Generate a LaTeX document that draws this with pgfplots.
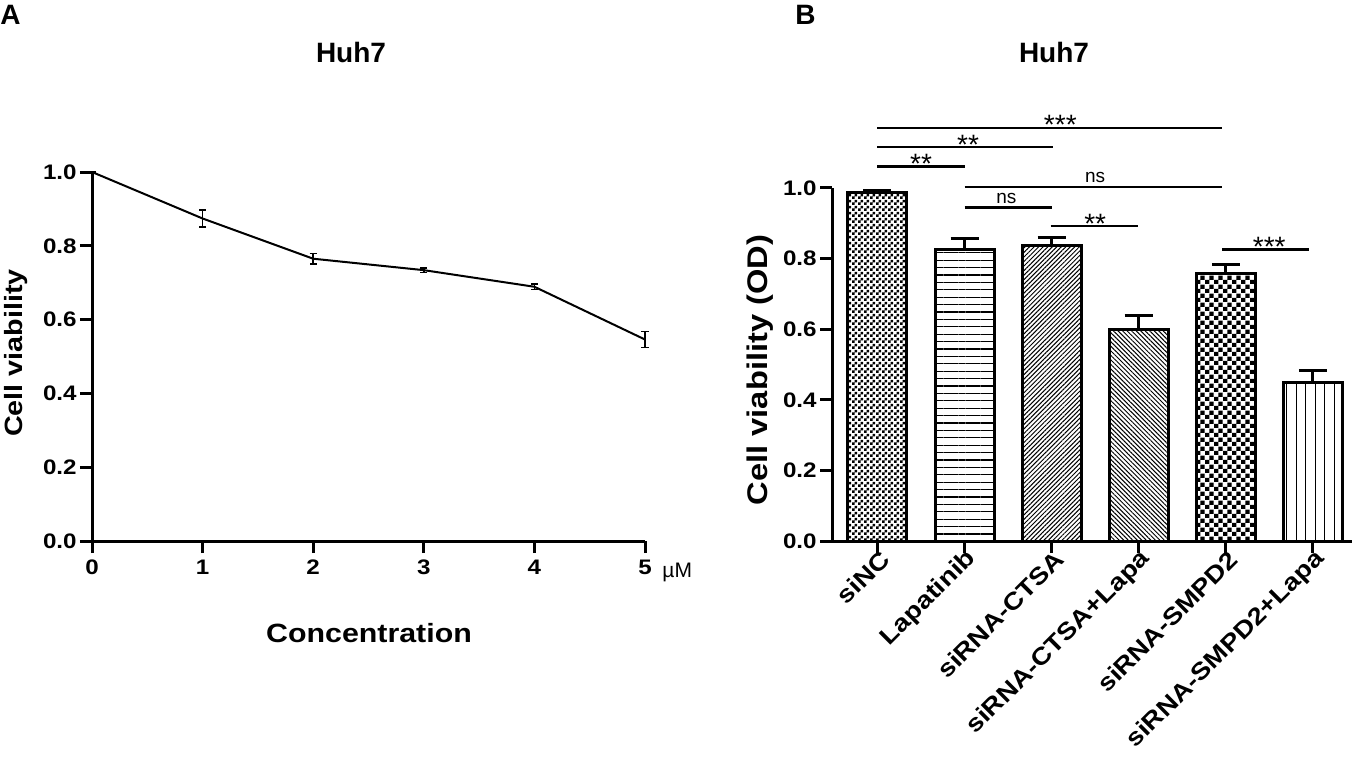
\documentclass[border=0pt]{standalone}
\usepackage{fontspec}
\setmainfont{Liberation Sans}
\newfontfamily\wide[FakeStretch=1.15]{Liberation Sans}
\usepackage{pgfplots}
\pgfplotsset{compat=1.18}
\usetikzlibrary{patterns,patterns.meta}

\pgfdeclarepatternformonly{finecheck}{\pgfpointorigin}{\pgfqpoint{3pt}{3pt}}{\pgfqpoint{3pt}{3pt}}{%
  \pgfpathrectangle{\pgfpointorigin}{\pgfqpoint{1.5pt}{1.5pt}}%
  \pgfpathrectangle{\pgfqpoint{1.5pt}{1.5pt}}{\pgfqpoint{1.5pt}{1.5pt}}%
  \pgfusepath{fill}}
\pgfdeclarepatternformonly{coarsecheck}{\pgfpointorigin}{\pgfqpoint{4.6pt}{4.6pt}}{\pgfqpoint{4.6pt}{4.6pt}}{%
  \pgfpathrectangle{\pgfpointorigin}{\pgfqpoint{2.3pt}{2.3pt}}%
  \pgfpathrectangle{\pgfqpoint{2.3pt}{2.3pt}}{\pgfqpoint{2.3pt}{2.3pt}}%
  \pgfusepath{fill}}

\tikzset{
  sig/.style={line width=1.1pt, black},
  star/.style={anchor=base, font=\fontsize{14}{14}\selectfont, inner sep=0pt, yshift=-3.5pt},
  nsl/.style={anchor=base, font=\fontsize{9.5}{10}\selectfont, inner sep=0pt, yshift=2.2pt},
}
\pgfplotsset{
  gp/.style={
    scale only axis,
    anchor=south west,
    axis x line*=bottom, axis y line*=left,
    axis line style={-, line width=1.5pt, black},
    tick align=outside,
    major tick length=6pt,
    tick style={line width=1.5pt, black},
    ymin=0, ymax=1,
    ytick={0,0.2,0.4,0.6,0.8,1.0},
    yticklabels={0.0,0.2,0.4,0.6,0.8,1.0},
    tick label style={font=\wide\bfseries\fontsize{10.5}{12}\selectfont},
    y tick label style={inner sep=1.5pt},
    clip=false,
  },
  gpbar/.style={ybar, bar width=0.677, bar shift=0pt, draw=black, line width=1.5pt,
    error bars/y dir=plus, error bars/y explicit,
    error bars/error bar style={line width=1.5pt, black, solid},
    error bars/error mark options={rotate=90, line width=1.5pt, mark size=7pt, black, solid}},
}

\pgfplotstableread{
x y e
0 1.000 0.000
1 0.874 0.023
2 0.765 0.014
3 0.734 0.006
4 0.689 0.007
5 0.546 0.022
}\dataA

\begin{document}
\begin{tikzpicture}
\path[use as bounding box] (0,0) rectangle (679pt,378pt);

% Panel A
\begin{axis}[gp,
  at={(46pt,107.5pt)}, width=276.5pt, height=184.5pt,
  xmin=0, xmax=5, xtick={0,1,2,3,4,5}, xticklabels={0,1,2,3,4,5},
]
\addplot[black, line width=1pt, mark=none,
  error bars/y dir=both, error bars/y explicit,
  error bars/error bar style={line width=0.8pt},
  error bars/error mark options={rotate=90, line width=0.8pt, mark size=1.8pt}]
  table[x=x, y=y, y error=e] {\dataA};
\end{axis}

% Panel B
\begin{axis}[gp,
  at={(416pt,107.5pt)}, width=260pt, height=176.5pt,
  xmin=-0.522, xmax=5.45, xtick={0,1,2,3,4,5},
  xticklabels={siNC,Lapatinib,siRNA-CTSA,siRNA-CTSA+Lapa,siRNA-SMPD2,siRNA-SMPD2+Lapa},
  x tick label style={rotate=45, anchor=east, xshift=5.5pt, yshift=-3.5pt, font=\wide\bfseries\fontsize{12}{12}\selectfont},
]
\addplot[gpbar, pattern=finecheck] coordinates {(0,0.988) +- (0,0.006)};
\addplot[gpbar, pattern={Lines[angle=0,distance=3.7pt,line width=0.6pt]}] coordinates {(1,0.826) +- (0,0.031)};
\addplot[gpbar, pattern={Lines[angle=45,distance=1.6pt,line width=0.5pt]}] coordinates {(2,0.838) +- (0,0.023)};
\addplot[gpbar, pattern={Lines[angle=-45,distance=1.6pt,line width=0.5pt]}] coordinates {(3,0.600) +- (0,0.038)};
\addplot[gpbar, pattern=coarsecheck] coordinates {(4,0.759) +- (0,0.025)};
\addplot[gpbar, pattern={Lines[angle=90,distance=4.8pt,line width=0.5pt]}] coordinates {(5,0.450) +- (0,0.033)};

\draw[sig] (axis cs:0,1.171) -- (axis cs:3.96,1.171);
\node[star] at (axis cs:2.1,1.171) {***};
\draw[sig] (axis cs:0,1.116) -- (axis cs:2.02,1.116);
\node[star] at (axis cs:1.04,1.116) {**};
\draw[sig] (axis cs:0,1.061) -- (axis cs:1.0,1.061);
\node[star] at (axis cs:0.5,1.061) {**};
\draw[sig] (axis cs:1,1.002) -- (axis cs:3.96,1.002);
\node[nsl] at (axis cs:2.5,1.002) {ns};
\draw[sig] (axis cs:1,0.945) -- (axis cs:2.0,0.945);
\node[nsl] at (axis cs:1.48,0.945) {ns};
\draw[sig] (axis cs:1.99,0.892) -- (axis cs:2.99,0.892);
\node[star] at (axis cs:2.5,0.892) {**};
\draw[sig] (axis cs:3.96,0.826) -- (axis cs:4.96,0.826);
\node[star] at (axis cs:4.5,0.826) {***};
\end{axis}

\begin{scope}[x=0.5pt, y=-0.5pt, shift={(0pt,378pt)}]
\node[anchor=base west, inner sep=0pt, font=\bfseries\fontsize{14}{14}\selectfont] at (0,25) {A};
\node[anchor=base west, inner sep=0pt, font=\bfseries\fontsize{14}{14}\selectfont] at (795,25) {B};
\node[anchor=base, inner sep=0pt, font=\bfseries\fontsize{14}{14}\selectfont] at (351,63) {Huh7};
\node[anchor=base, inner sep=0pt, font=\bfseries\fontsize{14}{14}\selectfont] at (1054,63) {Huh7};
\node[anchor=base, rotate=90, inner sep=0pt, font=\wide\bfseries\fontsize{12.5}{13}\selectfont] at (22,353) {Cell viability};
\node[anchor=base, inner sep=0pt, font=\wide\bfseries\fontsize{13.2}{14}\selectfont] at (369,642) {Concentration};
\node[anchor=base west, inner sep=0pt, font=\fontsize{10.5}{11}\selectfont] at (662,577) {µM};
\node[anchor=base, rotate=90, inner sep=0pt, font=\wide\bfseries\fontsize{14.2}{15}\selectfont] at (767,370) {Cell viability (OD)};
\end{scope}
\end{tikzpicture}
\end{document}
